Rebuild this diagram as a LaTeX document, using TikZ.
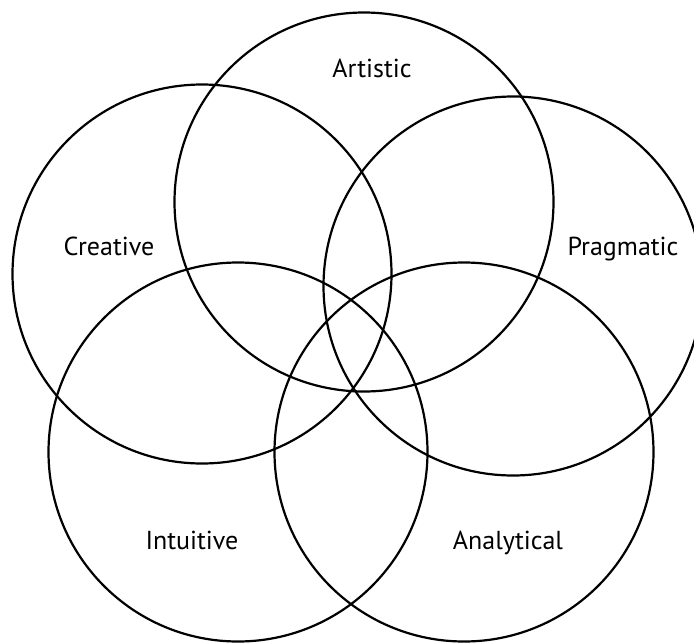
\documentclass[tikz,border=0pt]{standalone}
\usepackage{fontspec}
\setmainfont{PT Sans}
\begin{document}
\begin{tikzpicture}[x=1pt,y=-1pt,
  ring/.style={draw=black,line width=2.2pt,circle,minimum size=379pt,inner sep=0pt},
  lbl/.style={font=\fontsize{26}{30}\selectfont,anchor=base,inner sep=0pt}]
\useasboundingbox[fill=white] (0,0) rectangle (694,643);
\node[ring] (artistic) at (364,202) {};
\node[ring] (creative) at (202,274) {};
\node[ring] (pragmatic) at (513,286) {};
\node[ring] (intuitive) at (238,452) {};
\node[ring] (analytical) at (464,452) {};
\node[lbl] (tA) at (372,77) {Artistic};
\node[lbl] (tC) at (109,255) {Creative};
\node[lbl] (tP) at (623,255) {Pragmatic};
\node[lbl] (tI) at (192,549) {Intuitive};
\node[lbl] (tN) at (508,549) {Analytical};
\end{tikzpicture}
\end{document}
